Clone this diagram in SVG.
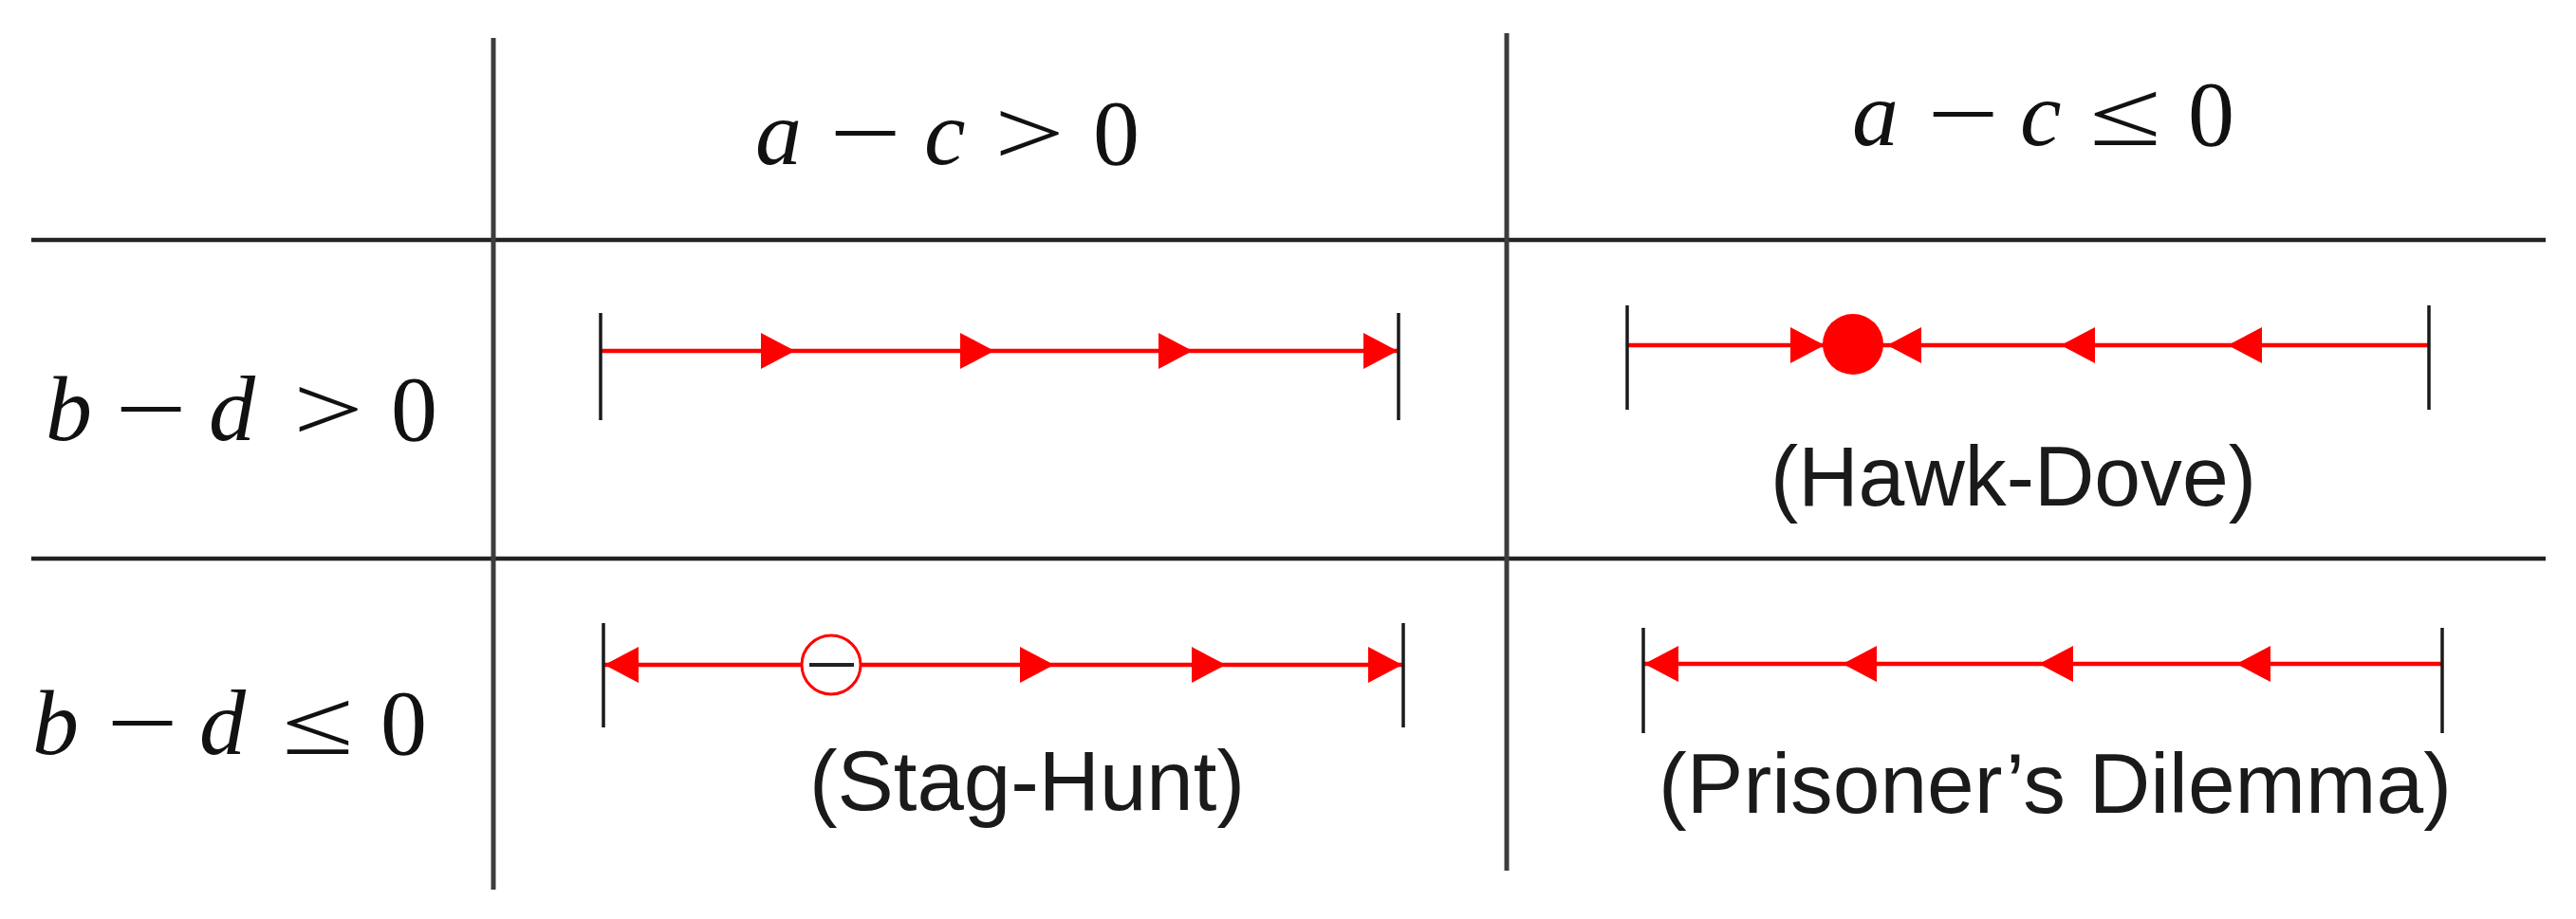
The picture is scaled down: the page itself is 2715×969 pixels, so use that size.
<svg xmlns="http://www.w3.org/2000/svg" xmlns:xlink="http://www.w3.org/1999/xlink" width="2715" height="969" viewBox="0 0 2715 969">
<style>
  .math { font-family: "Liberation Serif", "DejaVu Serif", serif; font-size: 98px; fill: #111; }
  .it { font-style: italic; }
  .lbl { font-family: "Liberation Sans", Arial, sans-serif; font-size: 89px; fill: #1a1a1a; }
  .hline { stroke: #222; stroke-width: 4.5; }
  .vline { stroke: #3c3c3c; stroke-width: 5; }
  .tick { stroke: #1a1a1a; stroke-width: 3.5; }
  .axis { stroke: #ff0000; stroke-width: 4.5; }
  .ah { fill: #ff0000; }
</style>
<defs>
  <path id="arR" d="M0,0 L-36,-19 L-36,19 Z"/>
  <path id="arL" d="M0,0 L36,-19 L36,19 Z"/>
</defs>
<rect x="0" y="0" width="2715" height="969" fill="#ffffff"/>

<g id="grid">
  <line class="hline" x1="33" y1="253" x2="2683" y2="253"/>
  <line class="hline" x1="33" y1="589" x2="2683" y2="589"/>
  <line class="vline" x1="520" y1="40" x2="520" y2="938"/>
  <line class="vline" x1="1588" y1="35" x2="1588" y2="918"/>
</g>

<g id="header-col1">
  <text class="math it" x="796" y="173">a</text>
  <text class="math" x="874" y="173" textLength="76" lengthAdjust="spacingAndGlyphs">−</text>
  <text class="math it" x="974" y="173">c</text>
  <text class="math" x="1048" y="173" textLength="74" lengthAdjust="spacingAndGlyphs">&gt;</text>
  <text class="math" x="1152" y="173">0</text>
</g>
<g id="header-col2">
  <text class="math it" x="1952" y="153">a</text>
  <text class="math" x="2031" y="153" textLength="76" lengthAdjust="spacingAndGlyphs">−</text>
  <text class="math it" x="2129" y="153">c</text>
  <text class="math" x="2202" y="153" textLength="76" lengthAdjust="spacingAndGlyphs">≤</text>
  <text class="math" x="2306" y="153">0</text>
</g>
<g id="header-row1">
  <text class="math it" x="48" y="464">b</text>
  <text class="math" x="121" y="464" textLength="76" lengthAdjust="spacingAndGlyphs">−</text>
  <text class="math it" x="220" y="464">d</text>
  <text class="math" x="309" y="464" textLength="74" lengthAdjust="spacingAndGlyphs">&gt;</text>
  <text class="math" x="412" y="464">0</text>
</g>
<g id="header-row2">
  <text class="math it" x="34" y="795">b</text>
  <text class="math" x="112" y="795" textLength="76" lengthAdjust="spacingAndGlyphs">−</text>
  <text class="math it" x="210" y="795">d</text>
  <text class="math" x="297" y="795" textLength="76" lengthAdjust="spacingAndGlyphs">≤</text>
  <text class="math" x="401" y="795">0</text>
</g>

<g id="cell-r1c1">
  <line class="axis" x1="633" y1="370" x2="1474" y2="370"/>
  <line class="tick" x1="633" y1="330" x2="633" y2="443"/>
  <line class="tick" x1="1474" y1="330" x2="1474" y2="443"/>
  <use class="ah" xlink:href="#arR" x="838" y="370"/>
  <use class="ah" xlink:href="#arR" x="1048" y="370"/>
  <use class="ah" xlink:href="#arR" x="1257" y="370"/>
  <use class="ah" xlink:href="#arR" x="1473" y="370"/>
</g>

<g id="cell-r1c2">
  <line class="axis" x1="1715" y1="364" x2="2560" y2="364"/>
  <line class="tick" x1="1715" y1="322" x2="1715" y2="432"/>
  <line class="tick" x1="2560" y1="322" x2="2560" y2="432"/>
  <use class="ah" xlink:href="#arR" x="1923" y="364"/>
  <use class="ah" xlink:href="#arL" x="1989" y="364"/>
  <use class="ah" xlink:href="#arL" x="2172" y="364"/>
  <use class="ah" xlink:href="#arL" x="2348" y="364"/>
  <circle cx="1953" cy="363" r="32" fill="#ff0000"/>
  <text class="lbl" x="1866" y="533" textLength="512" lengthAdjust="spacingAndGlyphs">(Hawk-Dove)</text>
</g>

<g id="cell-r2c1">
  <line class="axis" x1="636" y1="701" x2="1479" y2="701"/>
  <line class="tick" x1="636" y1="657" x2="636" y2="767"/>
  <line class="tick" x1="1479" y1="657" x2="1479" y2="767"/>
  <use class="ah" xlink:href="#arL" x="637" y="701"/>
  <use class="ah" xlink:href="#arR" x="1111" y="701"/>
  <use class="ah" xlink:href="#arR" x="1292" y="701"/>
  <use class="ah" xlink:href="#arR" x="1478" y="701"/>
  <circle cx="876" cy="701" r="31" fill="#ffffff" stroke="#ff0000" stroke-width="3"/>
  <line x1="853" y1="701" x2="900" y2="701" stroke="#222" stroke-width="4"/>
  <text class="lbl" x="853" y="854" textLength="459" lengthAdjust="spacingAndGlyphs">(Stag-Hunt)</text>
</g>

<g id="cell-r2c2">
  <line class="axis" x1="1732" y1="700" x2="2574" y2="700"/>
  <line class="tick" x1="1732" y1="662" x2="1732" y2="773"/>
  <line class="tick" x1="2574" y1="662" x2="2574" y2="773"/>
  <use class="ah" xlink:href="#arL" x="1733" y="700"/>
  <use class="ah" xlink:href="#arL" x="1942" y="700"/>
  <use class="ah" xlink:href="#arL" x="2149" y="700"/>
  <use class="ah" xlink:href="#arL" x="2357" y="700"/>
  <text class="lbl" x="1748" y="857" textLength="836" lengthAdjust="spacingAndGlyphs">(Prisoner’s Dilemma)</text>
</g>
</svg>
